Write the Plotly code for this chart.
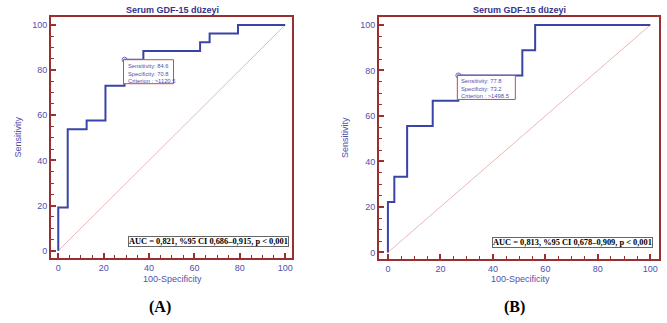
import plotly.graph_objects as go

W, H = 667, 323

# Panel A ROC data (100-Specificity, Sensitivity)
fpr_a = [0, 0, 4.17, 12.5, 20.8, 29.2, 37.5, 62.5, 66.7, 79.2, 100]
sens_a = [0, 19.2, 53.8, 57.7, 73.1, 84.6, 88.5, 92.3, 96.2, 100, 100]
crit_a = {"x": 29.2, "y": 84.6, "sens": "84.6", "spec": "70.8", "crit": ">1120.5"}
auc_a = "AUC = 0,821, %95 CI 0,686–0,915, p < 0,001"

# Panel B ROC data
fpr_b = [0, 0, 2.44, 7.32, 17.07, 26.83, 51.22, 56.10, 100]
sens_b = [0, 22.2, 33.3, 55.6, 66.7, 77.8, 88.9, 100, 100]
crit_b = {"x": 26.83, "y": 77.8, "sens": "77.8", "spec": "73.2", "crit": ">1498.5"}
auc_b = "AUC = 0,813, %95 CI 0,678–0,909, p < 0,001"

title_text = "Serum GDF-15 düzeyi"
tick_vals = [0, 20, 40, 60, 80, 100]
panel_labels = ["(A)", "(B)"]

FRAME = "#9b2f2f"
CURVE = "#3a44a6"
TXT = "#4f4fb0"
DIAG = "#e4a4a4"

# Frame geometry in pixels
panels = [
    dict(x0=51, x1=292, y0=17, y1=258, xr=[-3.2, 103.0], yr=[-3.2, 103.5],
         fpr=fpr_a, sens=sens_a, crit=crit_a, auc=auc_a, auc_right=289, auc_y=241.5,
         title_x=172, xt_x=172, box_w=50, box_h=24, label_x=160),
    dict(x0=379, x1=659, y0=17, y1=259, xr=[-3.4, 103.3], yr=[-2.9, 103.5],
         fpr=fpr_b, sens=sens_b, crit=crit_b, auc=auc_b, auc_right=653, auc_y=242.5,
         title_x=519, xt_x=520, box_w=58, box_h=24, label_x=514),
]

fig = go.Figure()
annotations = []
shapes = []

for i, p in enumerate(panels):
    n = "" if i == 0 else str(i + 1)
    xa, ya = "x" + n, "y" + n
    # diagonal
    fig.add_trace(go.Scatter(x=[0, 100], y=[0, 100], mode="lines",
                             line=dict(color=DIAG, width=0.8),
                             xaxis=xa, yaxis=ya, showlegend=False, hoverinfo="skip"))
    # ROC curve
    fig.add_trace(go.Scatter(x=p["fpr"], y=p["sens"], mode="lines", line_shape="hv",
                             line=dict(color=CURVE, width=2),
                             xaxis=xa, yaxis=ya, showlegend=False))
    # criterion marker
    c = p["crit"]
    fig.add_trace(go.Scatter(x=[c["x"]], y=[c["y"]], mode="markers",
                             marker=dict(symbol="circle-open", size=5, color="#6a6ab8",
                                         line=dict(width=1)),
                             xaxis=xa, yaxis=ya, showlegend=False))
    # criterion box
    shapes.append(dict(type="rect", xref=xa, yref=ya, layer="above",
                       xsizemode="pixel", ysizemode="pixel",
                       xanchor=c["x"], yanchor=c["y"],
                       x0=-1, x1=p["box_w"] - 1, y0=-p["box_h"], y1=0,
                       fillcolor="white", line=dict(color="#c05050", width=1)))
    annotations.append(dict(xref=xa, yref=ya, x=c["x"], y=c["y"],
                            xanchor="left", yanchor="top", xshift=1, yshift=-1,
                            showarrow=False, align="left",
                            text=f"Sensitivity: {c['sens']}<br>Specificity: {c['spec']}<br>Criterion : {c['crit']}",
                            font=dict(family="Liberation Sans", size=5.8, color=TXT)))
    # AUC box
    annotations.append(dict(xref="paper", yref="paper",
                            x=p["auc_right"] / W, y=1 - p["auc_y"] / H,
                            xanchor="right", yanchor="middle", showarrow=False,
                            text="<b>" + p["auc"].replace("<", "&lt;") + "</b>",
                            font=dict(family="Liberation Serif", size=8.4, color="black"),
                            bgcolor="white", bordercolor="#666666", borderwidth=1, borderpad=0))
    # title
    annotations.append(dict(xref="paper", yref="paper", x=p["title_x"] / W, y=1 - 10 / H,
                            xanchor="center", yanchor="middle", showarrow=False,
                            text="<b>" + title_text + "</b>",
                            font=dict(family="Liberation Sans", size=9, color="#34348a")))
    # axis titles
    annotations.append(dict(xref="paper", yref="paper", x=p["xt_x"] / W, y=1 - 279 / H,
                            xanchor="center", yanchor="middle", showarrow=False,
                            text="100-Specificity",
                            font=dict(family="Liberation Sans", size=9, color=TXT)))
    annotations.append(dict(xref="paper", yref="paper", x=(p["x0"] - 34) / W,
                            y=1 - ((p["y0"] + p["y1"]) / 2) / H,
                            xanchor="center", yanchor="middle", showarrow=False,
                            text="Sensitivity", textangle=-90,
                            font=dict(family="Liberation Sans", size=9, color=TXT)))
    # panel label
    annotations.append(dict(xref="paper", yref="paper", x=p["label_x"] / W, y=1 - 307 / H,
                            xanchor="center", yanchor="middle", showarrow=False,
                            text="<b>" + panel_labels[i] + "</b>",
                            font=dict(family="Liberation Serif", size=16, color="black")))

    axcommon = dict(showgrid=False, zeroline=False, showline=True, mirror=True,
                    automargin=False,
                    linecolor=FRAME, linewidth=2, ticks="inside", ticklen=5,
                    tickwidth=1.5, tickcolor=FRAME, tickvals=tick_vals,
                    tickfont=dict(family="Liberation Sans", size=9, color=TXT),
                    minor=dict(ticks="inside", ticklen=3, tickwidth=1.2,
                               tickcolor=FRAME, dtick=5, showgrid=False))
    fig.layout["xaxis" + n] = dict(axcommon, domain=[p["x0"] / W, p["x1"] / W],
                                   range=p["xr"], anchor=ya)
    fig.layout["yaxis" + n] = dict(axcommon, domain=[1 - p["y1"] / H, 1 - p["y0"] / H],
                                   range=p["yr"], anchor=xa)

fig.update_layout(width=W, height=H, margin=dict(l=0, r=0, t=0, b=0, autoexpand=False),
                  paper_bgcolor="white", plot_bgcolor="white",
                  annotations=annotations, shapes=shapes, showlegend=False)

fig.write_html("out.html", config={"displayModeBar": False},
               post_script="document.body.style.margin='0';document.body.style.padding='0';"
                           "document.body.style.overflow='hidden';")
